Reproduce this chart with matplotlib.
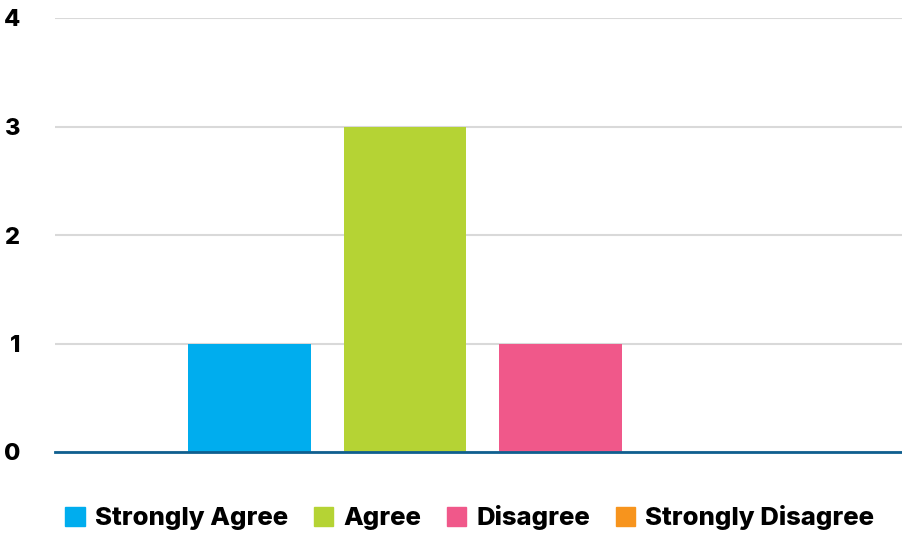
import numpy as np
import matplotlib.pyplot as plt
from matplotlib.patches import Patch

plt.rcParams['font.family'] = ['Inter', 'DejaVu Sans']

series = ['Strongly Agree', 'Agree', 'Disagree', 'Strongly Disagree']
values = [1, 3, 1, 0]
colors = ['#00adee', '#b5d334', '#f0588a', '#f7941d']
yticks = [0, 1, 2, 3, 4]

fig = plt.figure(figsize=(9.02, 5.34), dpi=100)
ax = fig.add_axes([55 / 902, 1 - 452 / 534, 847 / 902, (452 - 18) / 534])

width = 0.145
pitch = 0.1836
for i, (name, v, c) in enumerate(zip(series, values, colors)):
    ax.bar(0 + (i - 1.5) * pitch, v, width=width, color=c, label=name, zorder=3)

ax.set_xlim(-0.505, 0.495)
ax.set_ylim(0, 4)
ax.set_yticks(yticks)
ax.set_yticklabels([str(t) for t in yticks], fontsize=17, fontweight='heavy')
ax.tick_params(axis='y', length=0, pad=25)
ax.set_xticks([])
ax.grid(axis='y', color='#d9d9d9', linewidth=1.5, zorder=0)
for s in ['top', 'right', 'left']:
    ax.spines[s].set_visible(False)
ax.spines['bottom'].set_color('#0f5f8f')
ax.spines['bottom'].set_linewidth(2)
ax.spines['bottom'].set_zorder(4)

handles = [Patch(color=c) for c in colors]
fig.legend(handles, series, loc='center', bbox_to_anchor=(0.521, 1 - 518 / 534),
           ncol=4, frameon=False, handlelength=0.75, handleheight=0.75,
           handletextpad=0.4, columnspacing=1.0,
           prop={'size': 18.5, 'weight': 'heavy'})

fig.savefig('out.png', dpi=100)
